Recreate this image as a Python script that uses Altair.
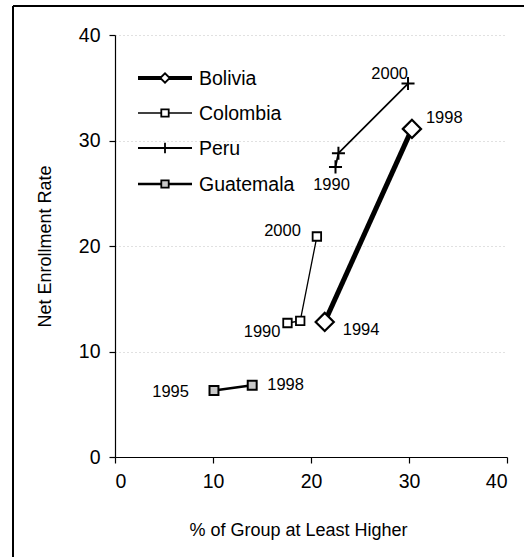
import altair as alt
import pandas as pd

# ---- data ----
series_names = ["Bolivia", "Colombia", "Peru", "Guatemala"]

bolivia_x = [21.4, 30.3]
bolivia_y = [12.8, 31.1]
bolivia_labels = ["1994", "1998"]

colombia_x = [17.6, 18.9, 20.6]
colombia_y = [12.7, 12.9, 20.9]
colombia_labels = ["1990", "", "2000"]

peru_x = [22.5, 22.8, 29.9]
peru_y = [27.5, 28.8, 35.4]
peru_labels = ["1990", "", "2000"]

guatemala_x = [10.1, 14.0]
guatemala_y = [6.3, 6.8]
guatemala_labels = ["1995", "1998"]

x_ticks = [0, 10, 20, 30, 40]
y_ticks = [0, 10, 20, 30, 40]

x_title = "% of Group at Least Higher"
y_title = "Net Enrollment Rate"

# ---- styles ----
FONT = "Liberation Sans"
W, H = 392, 422
CROSS = "M-1,0H1M0,-1V1"

styles = {
    "Bolivia": dict(line_w=5, shape="diamond", size=330, fill="white", sw=2.2, leg_size=90, leg_line=4),
    "Colombia": dict(line_w=1.3, shape="square", size=72, fill="white", sw=1.8, leg_size=55, leg_line=1.3),
    "Peru": dict(line_w=1.8, shape=CROSS, size=170, fill="none", sw=2, leg_size=110, leg_line=1.8),
    "Guatemala": dict(line_w=2.5, shape="square", size=80, fill="#c8c8c8", sw=2, leg_size=55, leg_line=2.5),
}

label_style = {
    ("Peru", "2000"): dict(align="right", dx=0, dy=-5),
    ("Peru", "1990"): dict(align="center", dx=-4, dy=23),
    ("Bolivia", "1998"): dict(align="left", dx=14, dy=-6),
    ("Bolivia", "1994"): dict(align="left", dx=18, dy=13),
    ("Colombia", "2000"): dict(align="right", dx=-16, dy=-1),
    ("Colombia", "1990"): dict(align="right", dx=-7, dy=14),
    ("Guatemala", "1995"): dict(align="right", dx=-25, dy=6),
    ("Guatemala", "1998"): dict(align="left", dx=15, dy=5),
}

legend_rows = [43, 78, 113, 149]

raw = {
    "Bolivia": (bolivia_x, bolivia_y, bolivia_labels),
    "Colombia": (colombia_x, colombia_y, colombia_labels),
    "Peru": (peru_x, peru_y, peru_labels),
    "Guatemala": (guatemala_x, guatemala_y, guatemala_labels),
}

xscale = alt.Scale(domain=[0, 40], nice=False)
yscale = alt.Scale(domain=[0, 40], nice=False)

layers = []

# axes carrier (invisible)
axis_df = pd.DataFrame({"x": [0], "y": [0]})
axes = alt.Chart(axis_df).mark_point(opacity=0).encode(
    x=alt.X("x:Q", scale=xscale,
            axis=alt.Axis(values=x_ticks, title=x_title, grid=False,
                          titleX=183, titleY=78, titleBaseline="alphabetic")),
    y=alt.Y("y:Q", scale=yscale,
            axis=alt.Axis(values=y_ticks, title=y_title, grid=True,
                          gridDash=[1, 3], gridColor="#aaaaaa", gridOpacity=0.7,
                          titleX=-70, titleY=211, titleBaseline="middle", titleAngle=-90)),
)
layers.append(axes)

for name in series_names:
    xs, ys, labs = raw[name]
    st = styles[name]
    df = pd.DataFrame({"x": xs, "y": ys, "label": labs, "order": list(range(len(xs)))})
    base = alt.Chart(df).encode(
        x=alt.X("x:Q", scale=xscale),
        y=alt.Y("y:Q", scale=yscale),
    )
    layers.append(base.mark_line(color="black", strokeWidth=st["line_w"]).encode(order="order:Q"))
    layers.append(base.mark_point(shape=st["shape"], size=st["size"], fill=st["fill"],
                                  stroke="black", strokeWidth=st["sw"], opacity=1,
                                  fillOpacity=0 if st["fill"] == "none" else 1))
    for lab in labs:
        if not lab:
            continue
        ls = label_style[(name, lab)]
        layers.append(
            base.transform_filter(alt.datum.label == lab).mark_text(
                align=ls["align"], baseline="alphabetic", dx=ls["dx"], dy=ls["dy"],
                font=FONT, fontSize=16.5, color="black"
            ).encode(text="label:N")
        )

# manual legend (line + marker + label)
for name, ry in zip(series_names, legend_rows):
    st = styles[name]
    ldf = pd.DataFrame({"series": [name]})
    lb = alt.Chart(ldf)
    layers.append(lb.mark_rule(color="black", strokeWidth=st["leg_line"]).encode(
        x=alt.value(23), x2=alt.value(77), y=alt.value(ry)))
    layers.append(lb.mark_point(shape=st["shape"], size=st["leg_size"], fill=st["fill"],
                                stroke="black", strokeWidth=1.8, opacity=1,
                                fillOpacity=0 if st["fill"] == "none" else 1).encode(
        x=alt.value(50), y=alt.value(ry)))
    layers.append(lb.mark_text(align="left", baseline="middle", font=FONT, fontSize=19.5,
                               color="black").encode(
        x=alt.value(84), y=alt.value(ry + 1), text="series:N"))

# outer frame (top and left edges)
fdf = pd.DataFrame({"f": [0]})
layers.append(alt.Chart(fdf).mark_rule(color="black", strokeWidth=2).encode(
    x=alt.value(-102), y=alt.value(-29), y2=alt.value(522)))
layers.append(alt.Chart(fdf).mark_rule(color="black", strokeWidth=2).encode(
    x=alt.value(-102), x2=alt.value(409), y=alt.value(-29)))

chart = alt.layer(*layers).properties(
    width=W, height=H,
    autosize=alt.AutoSizeParams(type="none"),
    padding={"left": 115, "top": 35, "right": 17, "bottom": 100},
    background="white",
).configure_view(stroke=None).configure_axis(
    domainColor="black", domainWidth=1.2, tickColor="black", tickSize=6, tickWidth=1.2,
    labelColor="black", labelFont=FONT, labelFontSize=19.5, labelPadding=9,
    titleColor="black", titleFont=FONT, titleFontSize=18, titleFontWeight="normal",
)

chart.save("out.html", embed_options={"renderer": "svg", "actions": False})
